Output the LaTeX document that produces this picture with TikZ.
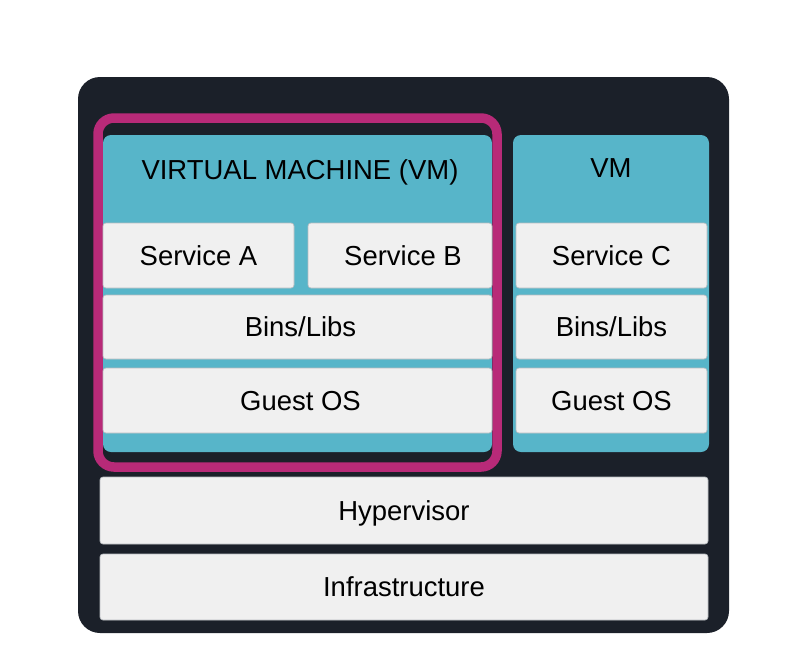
\documentclass[tikz,border=0pt]{standalone}
\usepackage{fontspec}
\setmainfont{Liberation Sans}
\definecolor{darkbg}{HTML}{1B2029}
\definecolor{magen}{HTML}{B82A78}
\definecolor{teal1}{HTML}{57B5C9}
\definecolor{lgray}{HTML}{F0F0F0}
\definecolor{edgegray}{HTML}{B8BCC0}
\tikzset{
  pxs/.style={x=0.75pt,y=-0.75pt},
  outerbox/.style={fill=darkbg, draw=none, rounded corners=22*0.75pt},
  vmring/.style={draw=magen, line width=9.5*0.75pt, rounded corners=16*0.75pt},
  vmbox/.style={fill=teal1, draw=none, rounded corners=8*0.75pt},
  layer/.style={fill=lgray, draw=edgegray, line width=0.5pt, rounded corners=3*0.75pt,
     font=\fontsize{20.6}{24}\selectfont, text height=14.7pt, text depth=0pt, inner sep=0pt},
  title/.style={font=\fontsize{20.6}{24}\selectfont, text height=14.7pt, text depth=0pt, inner sep=0pt}
}
\begin{document}
\begin{tikzpicture}[pxs]
\useasboundingbox[fill=white] (0,0) rectangle (790,654);
% outer frame
\node[outerbox, minimum width=651*0.75pt, minimum height=556*0.75pt] (outer) at (403.5,355) {};
% VM boxes
\node[vmbox, minimum width=389*0.75pt, minimum height=317*0.75pt] (lvm) at (297.5,293.5) {};
\node[vmbox, minimum width=196*0.75pt, minimum height=317*0.75pt] (rvm) at (611,293.5) {};
% highlight ring
\node[vmring, minimum width=399*0.75pt, minimum height=349*0.75pt] (ring) at (297.5,292.5) {};
% titles
\node[title] (ltitle) at (300,170) {VIRTUAL MACHINE (VM)};
\node[title] (rtitle) at (611,168) {VM};
% left VM layers
\node[layer, minimum width=191*0.75pt, minimum height=65*0.75pt] (svca) at (198.5,255.5) {Service A};
\node[layer, minimum width=184*0.75pt, minimum height=65*0.75pt] (svcb) at (400,255.5) {\hspace{4.5pt}Service B};
\node[layer, minimum width=389*0.75pt, minimum height=64*0.75pt] (lbins) at (297.5,327) {\hspace{4.5pt}Bins/Libs};
\node[layer, minimum width=389*0.75pt, minimum height=65*0.75pt] (lguest) at (297.5,400.5) {\hspace{4.5pt}Guest OS};
% right VM layers
\node[layer, minimum width=191*0.75pt, minimum height=65*0.75pt] (svcc) at (611.5,255.5) {Service C};
\node[layer, minimum width=191*0.75pt, minimum height=64*0.75pt] (rbins) at (611.5,327) {Bins/Libs};
\node[layer, minimum width=191*0.75pt, minimum height=65*0.75pt] (rguest) at (611.5,400.5) {Guest OS};
% host layers
\node[layer, minimum width=608*0.75pt, minimum height=67*0.75pt] (hyper) at (404,510.5) {Hypervisor};
\node[layer, minimum width=608*0.75pt, minimum height=66*0.75pt] (infra) at (404,587) {Infrastructure};
\end{tikzpicture}
\end{document}
